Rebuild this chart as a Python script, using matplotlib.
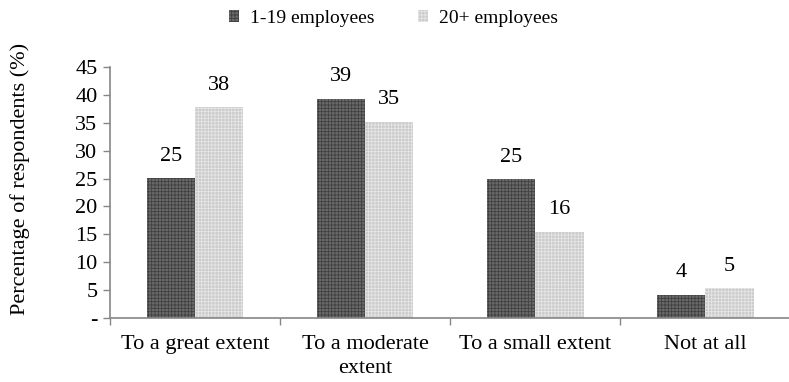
import matplotlib
matplotlib.use('Agg')
import matplotlib.pyplot as plt
import numpy as np

plt.rcParams['font.family'] = ['Liberation Serif', 'DejaVu Serif']
plt.rcParams['hatch.linewidth'] = 0.6

categories = ['To a great extent', 'To a moderate\nextent', 'To a small extent', 'Not at all']
small_firms = [25.1, 39.3, 24.9, 4.2]
large_firms = [37.8, 35.2, 15.5, 5.3]
series_names = ['1-19 employees', '20+ employees']
yticks = [0, 5, 10, 15, 20, 25, 30, 35, 40, 45]
ytick_labels = ['-', '5', '10', '15', '20', '25', '30', '35', '40', '45']

font_size = 16
axis_grey = '#868686'

fig = plt.figure(figsize=(7.89, 3.82), dpi=100)
ax = fig.add_axes([0.1394, 0.1675, 0.862, 0.657])

x = np.arange(len(categories))
width = 0.285

b1 = ax.bar(x - width / 2, small_firms, width, facecolor='#6a6a6a', edgecolor='#404040',
            hatch='+++++', linewidth=0, label=series_names[0])
b2 = ax.bar(x + width / 2, large_firms, width, facecolor='#cbcbcb', edgecolor='#e6e6e6',
            hatch='+++++', linewidth=0, label=series_names[1])

for bars in (b1, b2):
    ax.bar_label(bars, fmt='%.0f', padding=9, fontsize=font_size)

ax.set_xlim(-0.5, len(categories) - 0.5)
ax.set_ylim(0, 45)
ax.set_yticks(yticks)
ax.set_yticklabels(ytick_labels, fontsize=font_size)
ax.set_ylabel('Percentage of respondents (%)', fontsize=font_size)
ax.yaxis.set_label_coords(-0.118, 0.556)

# tick marks sit between the groups, labels under the group centres
ax.set_xticks(np.arange(len(categories) + 1) - 0.5)
ax.set_xticklabels([])
ax.set_xticks(x, minor=True)
ax.set_xticklabels(categories, minor=True, fontsize=font_size, linespacing=1.35)
ax.tick_params(axis='x', which='minor', length=0, pad=12)
ax.tick_params(axis='x', which='major', length=5, color=axis_grey, width=1)
ax.tick_params(axis='y', length=5, color=axis_grey, width=1, pad=4)

for side in ['top', 'right']:
    ax.spines[side].set_visible(False)
for side in ['left', 'bottom']:
    ax.spines[side].set_color(axis_grey)
    ax.spines[side].set_linewidth(1.2)

fig.legend(handles=[b1, b2], loc='center', bbox_to_anchor=(0.4987, 0.952), ncol=2,
           frameon=False, fontsize=14, handlelength=0.53, handleheight=0.53,
           handletextpad=0.58, columnspacing=2.2)

fig.savefig('out.png', dpi=100)
